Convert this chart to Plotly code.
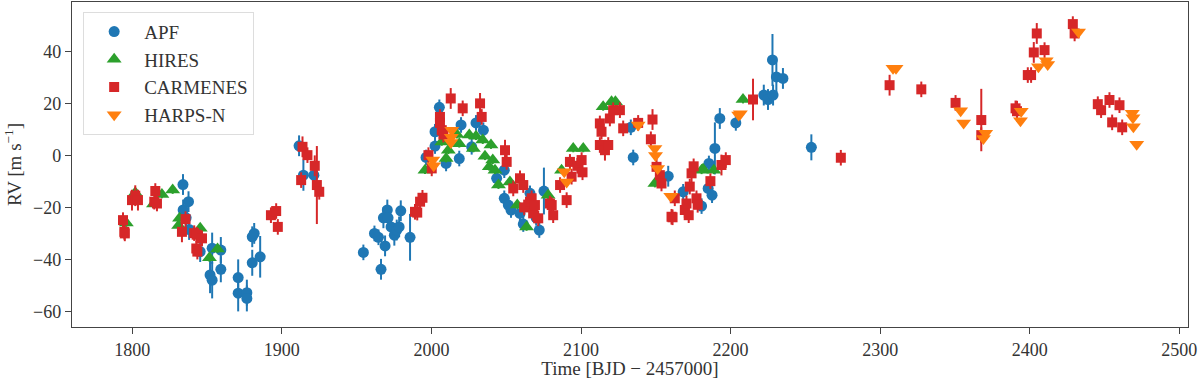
import plotly.graph_objects as go

# APF
apf_t = [1833.9, 1834.0, 1836.0, 1837.6, 1838.0, 1845.4, 1852.0, 1853.4, 1853.4, 1859.2,
         1859.2, 1870.8, 1870.8, 1876.6, 1876.6, 1880.2, 1881.5, 1880.2, 1885.5, 1911.5,
         1914.4, 1921.4, 1954.5, 1961.9, 1964.6, 1966.3, 1969.0, 1967.9, 1970.5, 1971.0,
         1973.0, 1975.2, 1976.8, 1978.4, 1979.5, 1985.7, 1996.4, 2002.4, 2002.4, 2005.3,
         2009.8, 2018.6, 2019.8, 2026.9, 2029.8, 2034.7, 2043.6, 2048.7, 2048.7, 2051.4,
         2053.2, 2059.2, 2061.4, 2065.9, 2070.0, 2072.1, 2075.2, 2133.3, 2134.9, 2158.3,
         2168.3, 2180.6, 2185.0, 2185.5, 2187.6, 2189.5, 2192.8, 2203.5, 2222.2, 2225.0,
         2228.0, 2228.4, 2230.6, 2235.0, 2254.0]
apf_rv = [-11.2, -21.0, -24.0, -17.8, -28.5, -37.0, -46.0, -48.0, -35.7, -36.4,
          -43.8, -47.0, -53.0, -52.8, -55.0, -31.3, -30.0, -41.3, -39.0, 3.7,
          -7.6, -7.6, -37.3, -30.0, -31.5, -43.8, -34.8, -24.0, -21.0, -24.0,
          -27.5, -30.7, -28.7, -27.5, -21.3, -31.5, -0.8, 3.6, 9.1, 18.5,
          -3.1, -1.2, 11.7, 3.3, 12.5, 9.7, -8.8, -5.7, -16.5, -19.1,
          -21.0, -22.3, -26.4, -14.6, -24.0, -28.7, -13.7, 10.8, -0.8, -8.0,
          -14.0, -19.5, -12.7, -3.1, -15.3, 2.7, 14.2, 12.5, 23.2, 21.5,
          36.7, 23.2, 30.2, 29.6, 3.1]
apf_err = [4, 4, 4, 4, 4, 4, 7, 7, 6, 5,
           5, 7, 7, 5, 5, 4, 4, 5, 8, 4,
           6, 4, 3, 3, 3, 4, 4, 4, 4, 3,
           4, 4, 4, 4, 4, 9, 3, 3, 3, 3,
           3, 3, 3, 3, 3, 3, 3, 3, 3, 3,
           3, 3, 3, 3, 3, 3, 9, 3, 3, 4,
           3, 3, 3, 3, 3, 10, 4, 3, 4, 4,
           10, 4, 6, 4, 5]

# HIRES
hires_t = [1796.0, 1802.0, 1814.2, 1819.8, 1827.0, 1831.0, 1831.6, 1845.4, 1851.6, 1857.0,
           1995.7, 2006.9, 2009.8, 2011.3, 2017.0, 2018.6, 2025.3, 2028.0, 2029.8, 2034.3,
           2035.8, 2038.7, 2039.8, 2041.0, 2042.5, 2044.8, 2052.5, 2057.4, 2063.6, 2078.0,
           2087.0, 2094.8, 2101.5, 2114.8, 2120.4, 2123.0, 2149.4, 2180.6, 2181.6, 2188.8,
           2208.3]
hires_rv = [-26.0, -14.4, -18.7, -15.0, -13.3, -27.0, -24.2, -28.0, -39.4, -36.0,
            -5.7, 5.2, -1.2, 2.0, 8.0, 4.5, 7.8, 2.7, 7.4, 5.9,
            -0.3, -4.4, 4.0, -1.8, -5.7, -11.4, -10.2, -19.1, -27.5, -15.3,
            -5.7, 2.7, 2.7, 18.7, 20.6, 20.6, -10.8, -5.7, -5.3, -5.7,
            21.5]
hires_err = [1.5] * len(hires_t)

# CARMENES
carm_t = [1793.8, 1794.7, 1795.0, 1799.8, 1802.0, 1803.8, 1814.7, 1815.4, 1816.5, 1833.2,
          1835.6, 1841.4, 1843.0, 1842.8, 1843.5, 1846.6, 1892.7, 1896.2, 1897.3, 1912.9,
          1913.8, 1917.1, 1922.0, 1923.4, 1925.0, 1989.0, 1990.5, 1992.4, 1994.0, 1998.0,
          2000.2, 2005.7, 2005.7, 2006.9, 2008.0, 2012.9, 2020.9, 2032.5, 2033.6, 2049.2,
          2050.3, 2054.7, 2059.2, 2061.4, 2062.0, 2065.9, 2067.0, 2068.0, 2069.2, 2071.4,
          2079.2, 2080.4, 2081.4, 2086.0, 2090.4, 2092.6, 2093.7, 2097.6, 2100.4, 2101.0,
          2112.6, 2113.7, 2112.6, 2116.0, 2118.2, 2119.3, 2121.5, 2126.0, 2128.2, 2138.2,
          2146.7, 2147.8, 2150.5, 2152.7, 2153.8, 2160.5, 2161.2, 2162.7, 2169.4, 2170.5,
          2172.0, 2172.7, 2173.9, 2175.3, 2177.2, 2178.0, 2186.5, 2193.9, 2196.8, 2215.0,
          2273.7, 2306.3, 2327.5, 2350.4, 2367.6, 2367.6, 2390.5, 2391.5, 2398.7, 2400.9,
          2402.7, 2404.7, 2409.9, 2428.8, 2430.0, 2445.5, 2447.7, 2453.3, 2455.1, 2460.0,
          2461.8]
carm_rv = [-24.9, -29.4, -30.0, -17.2, -15.5, -17.2, -17.8, -13.7, -18.5, -29.4,
           -24.5, -29.9, -30.5, -35.8, -37.0, -31.9, -23.0, -21.4, -27.5, -9.5,
           3.3, 0.1, -4.0, -11.4, -14.0, -21.7, -22.0, -17.8, -16.3, 0.1,
           -5.0, 14.8, 12.5, 9.7, 8.0, 21.9, 18.1, 20.0, 14.8, 2.0,
           -2.5, -12.7, -8.8, -11.4, -20.0, -17.8, -16.5, -22.3, -19.1, -24.2,
           -18.5, -19.1, -23.0, -11.4, -17.2, -2.5, -8.2, -4.0, -1.8, -6.5,
           12.3, 9.1, 4.0, 2.0, 4.0, 14.2, 17.4, 17.4, 10.4, 12.5,
           6.2, 13.8, -4.4, -7.6, -10.8, -23.6, -23.8, -16.5, -21.0, -18.5,
           -23.0, -12.0, -6.9, -4.2, -16.5, -19.0, -9.9, -3.7, -1.8, 21.5,
           -0.9, 27.0, 25.4, 20.2, 13.6, 7.8, 18.1, 17.0, 30.9, 30.9,
           39.6, 46.9, 40.5, 50.5, 46.9, 19.7, 17.4, 21.3, 12.7, 19.3,
           10.8]
carm_err = [3, 3, 3, 4, 4, 4, 3, 3, 3, 4,
            3, 3, 3, 3, 3, 3, 3, 3, 3, 3,
            4, 3, 4, 15, 3, 3, 3, 3, 3, 3,
            3, 3, 3, 3, 3, 4, 3, 4, 3, 4,
            3, 3, 3, 3, 3, 3, 3, 3, 3, 3,
            3, 3, 3, 3, 3, 3, 3, 3, 3, 3,
            3, 3, 3, 4, 3, 3, 3, 3, 3, 3,
            3, 4, 3, 3, 3, 3, 3, 3, 3, 3,
            3, 3, 4, 3, 3, 3, 3, 4, 3, 8,
            3, 4, 3, 3, 12, 3, 3, 4, 3, 3,
            4, 4, 3, 3, 3, 3, 3, 3, 3, 3,
            3]

# HARPS-N
harps_t = [2000.9, 2001.5, 2013.0, 2013.3, 2013.6, 2088.8, 2090.4, 2138.2, 2149.4, 2149.8,
           2151.2, 2160.0, 2205.4, 2206.5, 2308.6, 2310.6, 2353.8, 2355.8, 2369.0, 2370.5,
           2393.8, 2394.3, 2405.8, 2411.0, 2412.0, 2432.6, 2468.5, 2469.0, 2469.3, 2471.5]
harps_rv = [-1.8, -4.0, 5.0, 7.0, 9.7, -6.3, -10.2, 11.7, 2.7, 0.0,
            -5.0, -15.7, 15.5, 16.0, 33.5, 33.5, 17.2, 12.5, 6.5, 8.5,
            13.3, 17.0, 34.1, 36.4, 35.0, 47.5, 16.2, 14.5, 11.0, 4.3]
harps_err = [1.0] * len(harps_t)

series = [
    ("APF", apf_t, apf_rv, apf_err, "#1f77b4", "circle", 11),
    ("HIRES", hires_t, hires_rv, hires_err, "#2ca02c", "triangle-up", 13),
    ("CARMENES", carm_t, carm_rv, carm_err, "#d62728", "square", 10),
    ("HARPS-N", harps_t, harps_rv, harps_err, "#ff7f0e", "triangle-down", 13),
]

serif = "Liberation Serif, Times New Roman, DejaVu Serif, serif"

fig = go.Figure()
for name, t, rv, err, col, sym, size in series:
    fig.add_trace(go.Scatter(
        x=t, y=rv, mode="markers", name=name,
        marker=dict(color=col, symbol=sym, size=size, line=dict(width=0)),
        error_y=dict(type="data", array=err, visible=True, color=col, thickness=2, width=0),
    ))

axis_common = dict(
    showgrid=False, zeroline=False, showline=True, linecolor="#444", linewidth=1.3,
    mirror=True, ticks="outside", ticklen=6, tickwidth=1.2, tickcolor="#444",
    tickfont=dict(family=serif, size=18, color="#333"),
)

fig.update_layout(
    width=1200, height=379,
    margin=dict(l=72, r=12, t=2, b=52),
    paper_bgcolor="white", plot_bgcolor="white",
    font=dict(family=serif, size=19, color="#333"),
    xaxis=dict(range=[1759.7, 2505.8], tickvals=[1800, 1900, 2000, 2100, 2200, 2300, 2400, 2500],
               title=dict(text="Time [BJD \u2212 2457000]", font=dict(family=serif, size=19), standoff=4),
               **axis_common),
    yaxis=dict(range=[-66, 59], tickvals=[-60, -40, -20, 0, 20, 40],
               title=dict(text="RV [m s<sup>\u22121</sup>]", font=dict(family=serif, size=19), standoff=6),
               **axis_common),
    legend=dict(x=0.01, y=0.97, xanchor="left", yanchor="top",
                bgcolor="rgba(255,255,255,0.8)", bordercolor="#ddd", borderwidth=1,
                font=dict(family=serif, size=19, color="#333"), itemwidth=50),
    showlegend=True,
)

fig.write_html("out.html", config={"displayModeBar": False},
               post_script="document.body.style.margin='0';")
